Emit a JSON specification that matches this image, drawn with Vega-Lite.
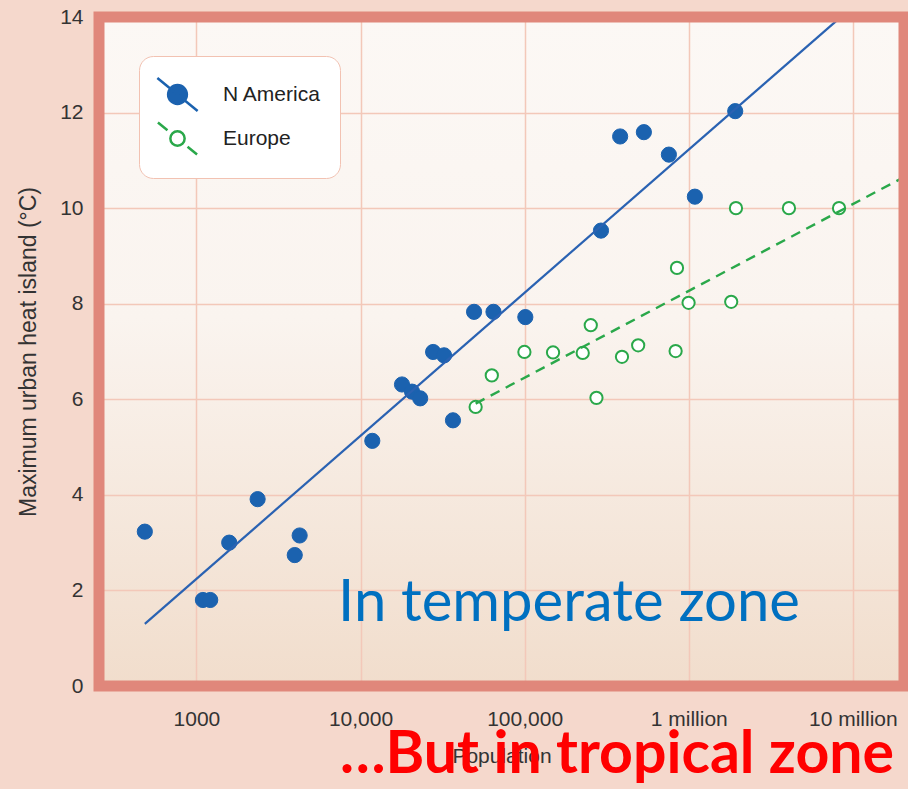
{
  "$schema": "https://vega.github.io/schema/vega-lite/v6.json",
  "width": 805,
  "height": 669,
  "autosize": {"type": "none"},
  "padding": {"left": 99, "top": 17, "right": 4, "bottom": 103},
  "background": "#f5d8cc",
  "config": {
    "view": {
      "stroke": null,
      "fill": {
        "gradient": "linear",
        "x1": 0, "y1": 0, "x2": 0, "y2": 1,
        "stops": [
          {"offset": 0, "color": "#fcf8f5"},
          {"offset": 0.45, "color": "#faf4ef"},
          {"offset": 1, "color": "#f1ddcc"}
        ]
      }
    },
    "font": "Liberation Sans",
    "legend": {
      "title": null,
      "orient": "none",
      "legendX": 40,
      "legendY": 39,
      "padding": 18,
      "fillColor": "#ffffff",
      "strokeColor": "#f2c2b2",
      "cornerRadius": 14,
      "symbolSize": 1444,
      "symbolStrokeWidth": 2.5,
      "labelFont": "Liberation Sans",
      "labelFontSize": 21,
      "labelColor": "#222222",
      "labelOffset": 25,
      "rowPadding": 0
    },
    "axis": {
      "ticks": false,
      "domain": false,
      "grid": true,
      "gridColor": "#f3c8b9",
      "gridWidth": 1.5,
      "labelFont": "Liberation Sans",
      "labelFontSize": 21,
      "labelColor": "#333333",
      "titleFont": "Liberation Sans",
      "titleFontWeight": "normal",
      "titleColor": "#333333",
      "labelOverlap": false,
      "labelFlush": false
    }
  },
  "datasets": {
    "points": [
      {"region": "N America", "population": 485, "uhi": 3.23},
      {"region": "N America", "population": 1096, "uhi": 1.8},
      {"region": "N America", "population": 1214, "uhi": 1.8},
      {"region": "N America", "population": 1585, "uhi": 3.0},
      {"region": "N America", "population": 2361, "uhi": 3.91},
      {"region": "N America", "population": 3975, "uhi": 2.74},
      {"region": "N America", "population": 4258, "uhi": 3.15},
      {"region": "N America", "population": 11800, "uhi": 5.13},
      {"region": "N America", "population": 17900, "uhi": 6.31},
      {"region": "N America", "population": 20600, "uhi": 6.16},
      {"region": "N America", "population": 23100, "uhi": 6.02},
      {"region": "N America", "population": 27700, "uhi": 6.99},
      {"region": "N America", "population": 32300, "uhi": 6.92},
      {"region": "N America", "population": 36600, "uhi": 5.56},
      {"region": "N America", "population": 49200, "uhi": 7.83},
      {"region": "N America", "population": 64600, "uhi": 7.83},
      {"region": "N America", "population": 101000, "uhi": 7.72},
      {"region": "N America", "population": 292000, "uhi": 9.53},
      {"region": "N America", "population": 382000, "uhi": 11.5},
      {"region": "N America", "population": 533000, "uhi": 11.59},
      {"region": "N America", "population": 757000, "uhi": 11.12},
      {"region": "N America", "population": 1090000, "uhi": 10.24},
      {"region": "N America", "population": 1920000, "uhi": 12.03},
      {"region": "Europe", "population": 50300, "uhi": 5.84},
      {"region": "Europe", "population": 63100, "uhi": 6.5},
      {"region": "Europe", "population": 99700, "uhi": 6.99},
      {"region": "Europe", "population": 149000, "uhi": 6.98},
      {"region": "Europe", "population": 226000, "uhi": 6.97},
      {"region": "Europe", "population": 253000, "uhi": 7.55},
      {"region": "Europe", "population": 274000, "uhi": 6.03},
      {"region": "Europe", "population": 392000, "uhi": 6.89},
      {"region": "Europe", "population": 492000, "uhi": 7.13},
      {"region": "Europe", "population": 832000, "uhi": 7.01},
      {"region": "Europe", "population": 848000, "uhi": 8.75},
      {"region": "Europe", "population": 998000, "uhi": 8.02},
      {"region": "Europe", "population": 1815000, "uhi": 8.04},
      {"region": "Europe", "population": 1940000, "uhi": 10.0},
      {"region": "Europe", "population": 4080000, "uhi": 10.0},
      {"region": "Europe", "population": 8240000, "uhi": 10.0}
    ],
    "fits": [
      {"region": "N America", "population": 485, "uhi": 1.3},
      {"region": "N America", "population": 7940000, "uhi": 13.92},
      {"region": "Europe", "population": 50300, "uhi": 5.91},
      {"region": "Europe", "population": 20500000, "uhi": 10.65}
    ]
  },
  "layer": [
    {
      "data": {"name": "points"},
      "transform": [{"filter": "datum.region === 'N America'"}],
      "mark": {"type": "circle", "opacity": 1, "strokeWidth": 1, "size": 230},
      "encoding": {
        "x": {
          "field": "population",
          "type": "quantitative",
          "scale": {"type": "log", "domain": [255, 20500000], "nice": false},
          "axis": {
            "values": [1000, 10000, 100000, 1000000, 10000000],
            "labelExpr": "datum.value == 1000 ? '1000' : datum.value == 10000 ? '10,000' : datum.value == 100000 ? '100,000' : datum.value == 1000000 ? '1 million' : '10 million'",
            "title": "Population",
            "titleFontSize": 21,
            "titlePadding": 16,
            "labelPadding": 22
          }
        },
        "y": {
          "field": "uhi",
          "type": "quantitative",
          "scale": {"domain": [0, 14], "nice": false},
          "axis": {
            "values": [0, 2, 4, 6, 8, 10, 12, 14],
            "title": "Maximum urban heat island (°C)",
            "titleFontSize": 23,
            "titlePadding": 19,
            "labelPadding": 16
          }
        },
        "fill": {
          "field": "region",
          "type": "nominal",
          "scale": {"domain": ["N America", "Europe"], "range": ["#1b62af", "#ffffff"]}
        },
        "stroke": {
          "field": "region",
          "type": "nominal",
          "scale": {"domain": ["N America", "Europe"], "range": ["#1b62af", "#2aa84a"]}
        }
      }
    },
    {
      "data": {"name": "points"},
      "transform": [{"filter": "false"}],
      "mark": {"type": "point", "filled": true, "opacity": 1, "strokeWidth": 2.5},
      "encoding": {
        "x": {"field": "population", "type": "quantitative"},
        "y": {"field": "uhi", "type": "quantitative"},
        "fill": {"field": "region", "type": "nominal"},
        "stroke": {"field": "region", "type": "nominal"},
        "shape": {
          "field": "region",
          "type": "nominal",
          "scale": {
            "domain": ["N America", "Europe"],
            "range": [
              "M-1.06,-0.87L1.06,0.87M-0.494,0A0.494,0.494,0,1,0,0.494,0A0.494,0.494,0,1,0,-0.494,0Z",
              "M-1.03,-0.845L-0.529,-0.434M0.529,0.434L1.03,0.845M-0.376,0A0.376,0.376,0,1,0,0.376,0A0.376,0.376,0,1,0,-0.376,0Z"
            ]
          }
        }
      }
    },
    {
      "data": {"name": "points"},
      "transform": [{"filter": "datum.region === 'Europe'"}],
      "mark": {"type": "circle", "opacity": 1, "strokeWidth": 2, "size": 150, "fill": "#ffffff", "stroke": "#2aa84a"},
      "encoding": {
        "x": {"field": "population", "type": "quantitative"},
        "y": {"field": "uhi", "type": "quantitative"}
      }
    },
    {
      "data": {"name": "fits"},
      "transform": [{"filter": "datum.region === 'N America'"}],
      "mark": {"type": "line", "strokeWidth": 2.2, "stroke": "#2a62b2"},
      "encoding": {
        "x": {"field": "population", "type": "quantitative"},
        "y": {"field": "uhi", "type": "quantitative"}
      }
    },
    {
      "data": {"name": "fits"},
      "transform": [{"filter": "datum.region === 'Europe'"}],
      "mark": {"type": "line", "strokeWidth": 2.4, "strokeDash": [10, 7], "stroke": "#2aa84a"},
      "encoding": {
        "x": {"field": "population", "type": "quantitative"},
        "y": {"field": "uhi", "type": "quantitative"}
      }
    },
    {
      "data": {"values": [{}]},
      "mark": {"type": "text", "text": "In temperate zone", "font": "Lato", "fontSize": 58, "color": "#0070c0", "align": "left", "baseline": "alphabetic"},
      "encoding": {
        "x": {"datum": 7300, "type": "quantitative"},
        "y": {"datum": 1.37, "type": "quantitative"}
      }
    },
    {
      "data": {"values": [{}]},
      "mark": {"type": "text", "text": "…But in tropical zone", "font": "Lato", "fontSize": 59, "fontWeight": "bold", "color": "#ff0000", "align": "left", "baseline": "alphabetic"},
      "encoding": {
        "x": {"datum": 7500, "type": "quantitative"},
        "y": {"datum": -1.82, "type": "quantitative"}
      }
    },
    {
      "data": {"values": [{}]},
      "mark": {"type": "rect", "fill": "transparent", "stroke": "#e0877b", "strokeWidth": 11},
      "encoding": {
        "x": {"datum": 255, "type": "quantitative"},
        "x2": {"datum": 20500000},
        "y": {"datum": 0, "type": "quantitative"},
        "y2": {"datum": 14}
      }
    }
  ]
}
